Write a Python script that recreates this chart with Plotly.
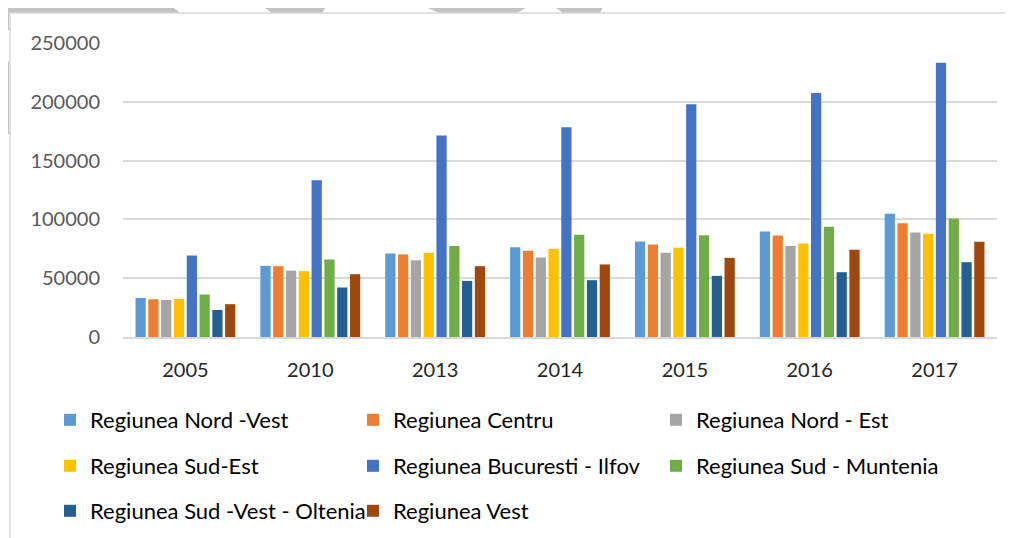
import plotly.graph_objects as go

years = ["2005", "2010", "2013", "2014", "2015", "2016", "2017"]
series_names = [
    "Regiunea Nord -Vest", "Regiunea Centru", "Regiunea Nord - Est",
    "Regiunea Sud-Est", "Regiunea Bucuresti - Ilfov", "Regiunea Sud - Muntenia",
    "Regiunea Sud -Vest - Oltenia", "Regiunea Vest",
]
nord_vest = [33200, 60500, 71000, 76400, 81200, 89800, 104800]
centru = [32100, 60200, 70200, 73300, 78700, 86400, 96800]
nord_est = [31500, 56500, 65300, 67600, 71600, 77300, 88900]
sud_est = [32400, 56000, 71600, 75000, 75800, 79500, 87700]
bucuresti_ilfov = [69300, 133200, 171400, 178300, 197900, 207500, 233100]
sud_muntenia = [36100, 65900, 77300, 86900, 86600, 93700, 100800]
sud_vest_oltenia = [23000, 42100, 47700, 48300, 52000, 55100, 63600]
vest = [27900, 53400, 60200, 61700, 67300, 74100, 80900]
y_ticks = [0, 50000, 100000, 150000, 200000, 250000]

values = [nord_vest, centru, nord_est, sud_est, bucuresti_ilfov,
          sud_muntenia, sud_vest_oltenia, vest]
colors = ["#5B9BD5", "#ED7D31", "#A5A5A5", "#FFC000", "#4472C4",
          "#70AD47", "#255E91", "#9E480E"]

# page body has an 8px margin: build the figure in screen coordinates minus it
OFF = 8
W, H = 1013 - OFF, 538 - OFF
PLOT_L, PLOT_R, PLOT_T, PLOT_B = 123, 997, 43, 337   # screen pixels
L, T = PLOT_L - OFF, PLOT_T - OFF
PW, PH = PLOT_R - PLOT_L, PLOT_B - PLOT_T
R, B = W - L - PW, H - T - PH


def px(x):
    return (x - PLOT_L) / PW


def py(y):
    return (PLOT_B - y) / PH


FONT = "Lato"
legend_ids = ["legend", "legend", "legend", "legend2", "legend2", "legend2",
              "legend3", "legend3"]

fig = go.Figure()
for name, vals, col, lg in zip(series_names, values, colors, legend_ids):
    fig.add_trace(go.Bar(x=years, y=vals, name=name, marker_color=col,
                         marker_line_width=0, legend=lg))

leg_common = dict(orientation="h", entrywidth=258, entrywidthmode="pixels",
                  font=dict(family=FONT, size=22, color="#000000"),
                  bgcolor="rgba(0,0,0,0)", xanchor="left", yanchor="middle",
                  x=px(50), itemwidth=30, tracegroupgap=0)

# watermark-like grey shapes and chart border
shapes = []
polys = [
    [(0, 0), (165, 0), (180, 13), (0, 13)],
    [(0, 13), (9, 13), (9, 30), (0, 38)],
    [(0, 56), (9, 62), (9, 135), (0, 125)],
    [(253, 0), (330, 0), (322, 13), (272, 13)],
    [(407, 0), (540, 0), (517, 13), (440, 13)],
    [(545, 0), (607, 0), (600, 13), (563, 13)],
]
for poly in polys:
    path = "M " + " L ".join(f"{px(x):.5f},{py(y):.5f}" for x, y in poly) + " Z"
    shapes.append(dict(type="path", path=path, xref="paper", yref="paper",
                       fillcolor="#C3C3C3", line=dict(width=0), layer="below"))
shapes.append(dict(type="rect", xref="paper", yref="paper",
                   x0=px(10), x1=px(1030), y0=py(560), y1=py(13),
                   line=dict(color="#D9D9D9", width=1.5), layer="below"))

fig.update_layout(
    width=W, height=H,
    margin=dict(l=L, r=R, t=T, b=B, autoexpand=False),
    paper_bgcolor="white", plot_bgcolor="white",
    font=dict(family=FONT, size=20),
    barmode="group", bargap=0.18, bargroupgap=0.2,
    legend=dict(**leg_common, y=py(420)),
    legend2=dict(**leg_common, y=py(466)),
    legend3=dict(**leg_common, y=py(511)),
    shapes=shapes,
    xaxis=dict(showgrid=False, showline=True, linecolor="#D9D9D9", linewidth=1.5,
               tickfont=dict(family=FONT, size=20, color="#262626"),
               ticklabelstandoff=14, ticks=""),
    yaxis=dict(range=[0, 250000], tickvals=y_ticks,
               ticktext=[str(v) for v in y_ticks],
               showgrid=True, gridcolor="#D9D9D9", gridwidth=1.5,
               zeroline=False, showline=False, ticks="",
               tickfont=dict(family=FONT, size=20, color="#595959"),
               ticklabelstandoff=22),
)

fig.write_html("out.html")
